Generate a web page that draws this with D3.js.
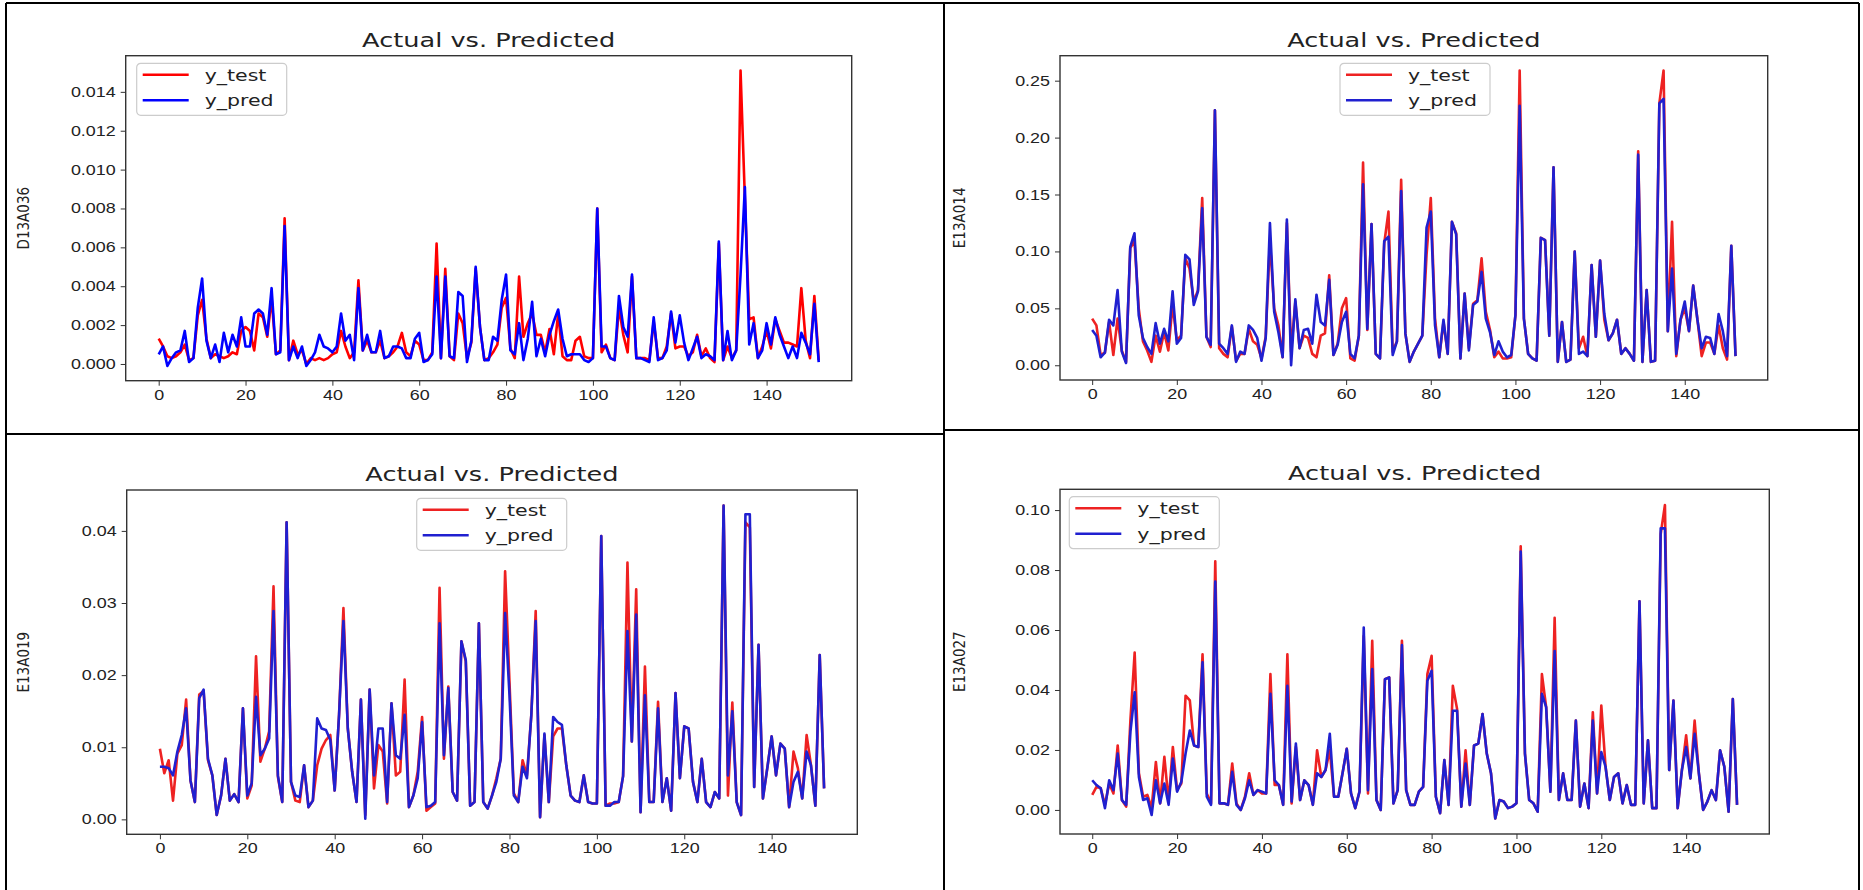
<!DOCTYPE html>
<html>
<head>
<meta charset="utf-8">
<script src="https://cdn.jsdelivr.net/npm/d3@7"></script>
<style>
  body { margin: 0; background: #fff; }
  svg { display: block; font-family: "DejaVu Sans", sans-serif; }
  .axis text { fill: #222; }
  .axis line { stroke: #333; }
</style>
</head>
<body>
<svg id="chart" width="1863" height="890"></svg>
<script>
// x ticks shared by all four panels
const xTicks = [0, 20, 40, 60, 80, 100, 120, 140];
const seriesNames = ["y_test", "y_pred"];
const panelTitle = "Actual vs. Predicted";

// ---- D13A036 (top left)
const d13a036Ticks = [0, 0.002, 0.004, 0.006, 0.008, 0.010, 0.012, 0.014];
const d13a036Test = [
  .0013,.0009,.0004,.0003,.0004,.0006,.0010,.0002,.0003,.0025,
  .0033,.0013,.0003,.0005,.0004,.0003,.0004,.0006,.0005,.0017,
  .0019,.0017,.0007,.0026,.0024,.0014,.0034,.0005,.0007,.0075,
  .0002,.0012,.0005,.0007,.0000,.0003,.0002,.0003,.0002,.0003,
  .0005,.0006,.0017,.0009,.0003,.0006,.0043,.0007,.0012,.0006,
  .0006,.0012,.0003,.0004,.0006,.0009,.0016,.0006,.0004,.0012,
  .0010,.0002,.0002,.0006,.0062,.0003,.0049,.0004,.0002,.0026,
  .0021,.0003,.0011,.0049,.0019,.0002,.0003,.0006,.0010,.0029,
  .0034,.0008,.0003,.0045,.0014,.0021,.0026,.0015,.0015,.0006,
  .0018,.0005,.0026,.0004,.0002,.0002,.0012,.0014,.0004,.0003,
  .0003,.0080,.0006,.0010,.0003,.0002,.0029,.0015,.0006,.0045,
  .0003,.0003,.0003,.0002,.0022,.0003,.0003,.0009,.0026,.0008,
  .0009,.0009,.0004,.0006,.0015,.0004,.0008,.0003,.0001,.0062,
  .0002,.0009,.0003,.0007,.0151,.0085,.0023,.0024,.0003,.0009,
  .0017,.0008,.0023,.0017,.0011,.0011,.0010,.0009,.0039,.0012,
  .0003,.0035,.0002
];
const d13a036Pred = [
  .0005,.0009,-.0001,.0003,.0006,.0007,.0017,.0001,.0003,.0029,
  .0044,.0012,.0003,.0010,.0001,.0016,.0006,.0015,.0009,.0024,
  .0009,.0009,.0026,.0028,.0026,.0015,.0039,.0005,.0006,.0071,
  .0002,.0009,.0003,.0009,-.0001,.0002,.0006,.0015,.0009,.0008,
  .0006,.0009,.0026,.0012,.0015,.0002,.0039,.0007,.0015,.0006,
  .0006,.0017,.0003,.0004,.0009,.0009,.0008,.0003,.0003,.0013,
  .0016,.0001,.0002,.0005,.0045,.0003,.0045,.0004,.0003,.0037,
  .0035,.0001,.0012,.0050,.0019,.0002,.0002,.0014,.0012,.0033,
  .0046,.0007,.0005,.0021,.0002,.0013,.0032,.0004,.0013,.0004,
  .0015,.0022,.0028,.0013,.0004,.0005,.0005,.0005,.0002,.0001,
  .0003,.0080,.0009,.0009,.0003,.0002,.0035,.0019,.0014,.0046,
  .0003,.0003,.0002,.0001,.0024,.0002,.0003,.0007,.0027,.0011,
  .0025,.0011,.0002,.0008,.0014,.0003,.0005,.0004,.0002,.0063,
  .0002,.0017,.0002,.0007,.0046,.0091,.0010,.0021,.0003,.0007,
  .0021,.0010,.0024,.0015,.0009,.0003,.0009,.0003,.0016,.0011,
  .0005,.0031,.0001
];

// ---- E13A014 (top right)
const e13a014Ticks = [0, 0.05, 0.10, 0.15, 0.20, 0.25];
const e13a014Test = [
  .041,.035,.009,.011,.038,.009,.041,.013,.003,.103,
  .109,.050,.021,.013,.003,.026,.012,.029,.013,.053,
  .022,.026,.094,.085,.056,.066,.147,.025,.016,.224,
  .015,.010,.007,.034,.004,.010,.010,.032,.021,.018,
  .006,.025,.110,.050,.035,.007,.125,.012,.056,.015,
  .026,.024,.010,.007,.026,.028,.079,.009,.019,.050,
  .059,.006,.004,.026,.178,.031,.124,.010,.006,.107,
  .135,.012,.021,.163,.028,.003,.012,.019,.026,.097,
  .147,.041,.007,.038,.010,.126,.116,.006,.063,.015,
  .054,.057,.094,.047,.031,.007,.012,.006,.006,.007,
  .044,.259,.041,.010,.006,.004,.112,.110,.026,.174,
  .003,.038,.003,.005,.100,.015,.025,.008,.088,.025,
  .092,.040,.022,.028,.040,.010,.015,.010,.004,.188,
  .003,.066,.003,.004,.230,.259,.030,.126,.008,.040,
  .050,.030,.070,.040,.008,.020,.020,.010,.035,.015,
  .005,.105,.008
];
const e13a014Pred = [
  .031,.026,.007,.011,.040,.035,.066,.012,.002,.104,
  .116,.044,.024,.016,.010,.037,.019,.032,.021,.065,
  .019,.024,.097,.093,.053,.065,.138,.025,.018,.224,
  .019,.015,.010,.035,.003,.012,.010,.035,.031,.024,
  .004,.024,.125,.047,.029,.007,.128,.000,.058,.015,
  .031,.032,.019,.062,.038,.035,.075,.009,.018,.038,
  .047,.010,.006,.026,.159,.032,.124,.010,.006,.109,
  .113,.009,.021,.153,.028,.003,.012,.019,.026,.121,
  .135,.035,.007,.040,.010,.126,.115,.006,.063,.013,
  .053,.056,.082,.041,.029,.009,.021,.012,.007,.009,
  .044,.228,.041,.010,.006,.004,.112,.110,.026,.174,
  .003,.038,.003,.005,.100,.010,.012,.008,.088,.025,
  .092,.045,.022,.028,.040,.010,.015,.010,.004,.185,
  .003,.066,.003,.004,.230,.234,.030,.085,.010,.040,
  .056,.030,.070,.040,.015,.025,.024,.010,.045,.030,
  .008,.105,.008
];

// ---- E13A019 (bottom left)
const e13a019Ticks = [0, 0.01, 0.02, 0.03, 0.04];
const e13a019Test = [
  .0098,.0064,.0082,.0026,.0091,.0103,.0166,.0054,.0024,.0173,
  .0178,.0082,.0061,.0006,.0033,.0084,.0026,.0035,.0024,.0154,
  .0029,.0047,.0226,.0080,.0098,.0122,.0323,.0059,.0024,.0412,
  .0052,.0026,.0024,.0075,.0017,.0026,.0075,.0098,.0110,.0117,
  .0040,.0145,.0293,.0126,.0066,.0024,.0166,.0006,.0180,.0043,
  .0103,.0094,.0022,.0161,.0061,.0066,.0194,.0017,.0033,.0066,
  .0142,.0012,.0017,.0022,.0321,.0084,.0184,.0038,.0026,.0247,
  .0219,.0019,.0024,.0272,.0024,.0015,.0033,.0057,.0084,.0344,
  .0191,.0036,.0024,.0082,.0061,.0145,.0289,.0003,.0117,.0024,
  .0115,.0126,.0126,.0075,.0033,.0026,.0024,.0061,.0024,.0022,
  .0022,.0393,.0019,.0022,.0022,.0024,.0060,.0356,.0108,.0319,
  .0010,.0212,.0024,.0024,.0163,.0024,.0057,.0012,.0175,.0057,
  .0129,.0126,.0052,.0024,.0084,.0024,.0017,.0038,.0029,.0435,
  .0033,.0162,.0024,.0006,.0412,.0405,.0045,.0242,.0029,.0071,
  .0115,.0061,.0105,.0098,.0017,.0094,.0071,.0029,.0117,.0075,
  .0019,.0228,.0043
];
const e13a019Pred = [
  .0073,.0073,.0071,.0061,.0094,.0117,.0154,.0054,.0024,.0168,
  .0180,.0084,.0061,.0006,.0033,.0084,.0026,.0035,.0024,.0154,
  .0033,.0050,.0170,.0089,.0098,.0112,.0289,.0061,.0024,.0412,
  .0052,.0033,.0031,.0075,.0017,.0026,.0140,.0126,.0124,.0110,
  .0040,.0145,.0275,.0126,.0066,.0024,.0166,.0001,.0180,.0061,
  .0126,.0126,.0024,.0161,.0089,.0084,.0145,.0017,.0033,.0057,
  .0135,.0017,.0019,.0024,.0272,.0089,.0182,.0038,.0026,.0247,
  .0221,.0019,.0024,.0272,.0024,.0015,.0033,.0052,.0084,.0286,
  .0173,.0033,.0024,.0073,.0057,.0145,.0275,.0003,.0119,.0024,
  .0142,.0135,.0131,.0075,.0033,.0026,.0024,.0061,.0024,.0022,
  .0022,.0393,.0019,.0019,.0024,.0024,.0060,.0261,.0108,.0284,
  .0010,.0172,.0024,.0024,.0154,.0024,.0057,.0012,.0175,.0057,
  .0129,.0126,.0052,.0024,.0084,.0024,.0017,.0038,.0029,.0435,
  .0061,.0150,.0024,.0006,.0423,.0423,.0045,.0242,.0029,.0071,
  .0115,.0061,.0105,.0098,.0017,.0052,.0066,.0029,.0094,.0075,
  .0019,.0228,.0043
];

// ---- E13A027 (bottom right)
const e13a027Ticks = [0, 0.02, 0.04, 0.06, 0.08, 0.10];
const e13a027Test = [
  .0050,.0077,.0072,.0017,.0088,.0055,.0215,.0033,.0011,.0300,
  .0525,.0122,.0044,.0050,.0006,.0160,.0022,.0177,.0028,.0210,
  .0066,.0088,.0381,.0365,.0215,.0210,.0519,.0055,.0022,.0829,
  .0022,.0022,.0017,.0155,.0022,.0000,.0044,.0122,.0050,.0066,
  .0055,.0055,.0453,.0083,.0083,.0017,.0519,.0022,.0210,.0033,
  .0099,.0083,.0017,.0199,.0110,.0133,.0200,.0044,.0044,.0122,
  .0204,.0055,.0006,.0061,.0580,.0055,.0564,.0033,.0000,.0436,
  .0442,.0022,.0066,.0564,.0066,.0017,.0017,.0061,.0077,.0453,
  .0514,.0044,-.0011,.0166,.0017,.0414,.0337,.0011,.0199,.0017,
  .0215,.0221,.0320,.0188,.0122,-.0028,.0033,.0028,.0006,.0011,
  .0022,.0879,.0188,.0033,.0022,-.0006,.0453,.0343,.0061,.0641,
  .0033,.0122,.0033,.0033,.0298,.0011,.0088,.0006,.0326,.0055,
  .0348,.0144,.0033,.0110,.0122,.0022,.0083,.0017,.0017,.0696,
  .0022,.0232,.0006,.0006,.0920,.1017,.0133,.0365,.0006,.0133,
  .0249,.0105,.0298,.0122,.0000,.0028,.0066,.0033,.0199,.0144,
  -.0006,.0370,.0017
];
const e13a027Pred = [
  .0099,.0083,.0072,.0006,.0099,.0066,.0188,.0033,.0017,.0260,
  .0392,.0110,.0033,.0039,-.0017,.0099,.0022,.0088,.0017,.0171,
  .0061,.0094,.0188,.0265,.0215,.0210,.0492,.0044,.0017,.0762,
  .0022,.0022,.0017,.0127,.0017,.0000,.0039,.0099,.0050,.0066,
  .0061,.0055,.0387,.0099,.0083,.0017,.0414,.0028,.0221,.0033,
  .0099,.0083,.0017,.0122,.0110,.0133,.0254,.0044,.0044,.0122,
  .0204,.0055,.0006,.0061,.0608,.0066,.0470,.0033,.0000,.0436,
  .0442,.0022,.0066,.0550,.0066,.0017,.0017,.0061,.0077,.0431,
  .0464,.0044,-.0011,.0166,.0017,.0331,.0331,.0011,.0155,.0017,
  .0215,.0221,.0320,.0188,.0122,-.0028,.0033,.0028,.0006,.0011,
  .0022,.0862,.0188,.0033,.0022,-.0006,.0387,.0343,.0061,.0530,
  .0033,.0122,.0033,.0033,.0298,.0011,.0088,.0006,.0298,.0055,
  .0193,.0144,.0033,.0110,.0122,.0022,.0083,.0017,.0017,.0696,
  .0022,.0232,.0006,.0006,.0939,.0939,.0133,.0365,.0006,.0133,
  .0210,.0105,.0254,.0122,.0000,.0028,.0066,.0033,.0199,.0144,
  -.0006,.0370,.0017
];

// the source picture is stretched sideways, so text gets a horizontal scale
const SX = 1.28;
const LINE_W = 2.6;

const panels = [
  { label: "D13A036", test: d13a036Test, pred: d13a036Pred, ticks: d13a036Ticks, fmt: ".3f",
    box: [125.7, 851.7, 55.7, 380.7], legend: [136.7, 63.3], labelX: 24,
    colors: ["#ff0000", "#0000ff"] },
  { label: "E13A014", test: e13a014Test, pred: e13a014Pred, ticks: e13a014Ticks, fmt: ".2f",
    box: [1060, 1767.7, 55.7, 380], legend: [1340, 63.3], labelX: 960,
    colors: ["#ee2222", "#2020d0"] },
  { label: "E13A019", test: e13a019Test, pred: e13a019Pred, ticks: e13a019Ticks, fmt: ".2f",
    box: [126.7, 857.3, 490, 834.3], legend: [416.7, 498.3], labelX: 24,
    colors: ["#ee2222", "#2020d0"] },
  { label: "E13A027", test: e13a027Test, pred: e13a027Pred, ticks: e13a027Ticks, fmt: ".2f",
    box: [1060, 1769.3, 489.3, 834], legend: [1069.3, 496.7], labelX: 960,
    colors: ["#ee2222", "#2020d0"] }
];

const svg = d3.select("#chart");
svg.append("rect").attr("width", 1863).attr("height", 890).attr("fill", "#fff");

panels.forEach(p => {
  const [x0, x1, y0, y1] = p.box;
  const n = p.test.length - 1;

  // matplotlib-style 5% margins
  const x = d3.scaleLinear()
    .domain([-0.05 * n, 1.05 * n])
    .range([x0, x1]);

  const ext = d3.extent(p.test.concat(p.pred));
  const pad = 0.05 * (ext[1] - ext[0]);
  const y = d3.scaleLinear()
    .domain([ext[0] - pad, ext[1] + pad])
    .range([y1, y0]);

  const g = svg.append("g");

  // axes
  const xAxis = g.append("g")
    .attr("class", "axis")
    .attr("transform", `translate(0,${y1})`)
    .call(d3.axisBottom(x).tickValues(xTicks).tickSize(5).tickPadding(4));
  xAxis.select(".domain").remove();
  xAxis.selectAll("text")
    .attr("font-size", 14)
    .attr("transform", `scale(${SX},1)`);

  const yAxis = g.append("g")
    .attr("class", "axis")
    .attr("transform", `translate(${x0},0)`)
    .call(d3.axisLeft(y).tickValues(p.ticks).tickFormat(d3.format(p.fmt)).tickSize(5).tickPadding(5));
  yAxis.select(".domain").remove();
  yAxis.selectAll("text")
    .attr("font-size", 14)
    .attr("x", -10 / SX)
    .attr("transform", `scale(${SX},1)`);

  // lines: actual first, prediction on top
  const line = d3.line()
    .x((d, i) => x(i))
    .y(d => y(d));

  [p.test, p.pred].forEach((vals, i) => {
    g.append("path")
      .datum(vals)
      .attr("d", line)
      .attr("fill", "none")
      .attr("stroke", p.colors[i])
      .attr("stroke-width", LINE_W)
      .attr("stroke-linejoin", "round");
  });

  // frame
  g.append("rect")
    .attr("x", x0).attr("y", y0)
    .attr("width", x1 - x0).attr("height", y1 - y0)
    .attr("fill", "none")
    .attr("stroke", "#333")
    .attr("stroke-width", 1.4);

  // title
  g.append("text")
    .attr("transform", `translate(${(x0 + x1) / 2},${y0 - 9}) scale(${SX},1)`)
    .attr("text-anchor", "middle")
    .attr("font-size", 20)
    .attr("fill", "#222")
    .text(panelTitle);

  // y label
  g.append("text")
    .attr("transform", `translate(${p.labelX},${(y0 + y1) / 2}) rotate(-90)`)
    .attr("text-anchor", "middle")
    .attr("dy", "0.35em")
    .attr("font-size", 15)
    .attr("font-family", "'Liberation Sans Narrow', 'DejaVu Sans Condensed', 'DejaVu Sans', sans-serif")
    .attr("fill", "#222")
    .text(p.label);

  // legend
  const [lx, ly] = p.legend;
  const lg = g.append("g").attr("transform", `translate(${lx},${ly})`);
  lg.append("rect")
    .attr("width", 150).attr("height", 52).attr("rx", 4)
    .attr("fill", "#fff").attr("fill-opacity", 0.8)
    .attr("stroke", "#cccccc").attr("stroke-width", 1.2);
  seriesNames.forEach((name, i) => {
    const yy = 11.5 + i * 25.5;
    lg.append("line")
      .attr("x1", 6).attr("x2", 52)
      .attr("y1", yy).attr("y2", yy)
      .attr("stroke", p.colors[i]).attr("stroke-width", LINE_W);
    lg.append("text")
      .attr("transform", `translate(68,${yy + 6}) scale(${SX},1)`)
      .attr("font-size", 16)
      .attr("fill", "#222")
      .text(name);
  });
});

// outer panel borders
const borders = [
  [6, 3, 1859, 3],
  [6, 3, 6, 890],
  [944, 3, 944, 890],
  [1859, 3, 1859, 890],
  [6, 434, 944, 434],
  [944, 430, 1859, 430]
];
svg.selectAll("line.border")
  .data(borders)
  .join("line")
  .attr("class", "border")
  .attr("x1", d => d[0]).attr("y1", d => d[1])
  .attr("x2", d => d[2]).attr("y2", d => d[3])
  .attr("stroke", "#000")
  .attr("stroke-width", 2);
</script>
</body>
</html>
